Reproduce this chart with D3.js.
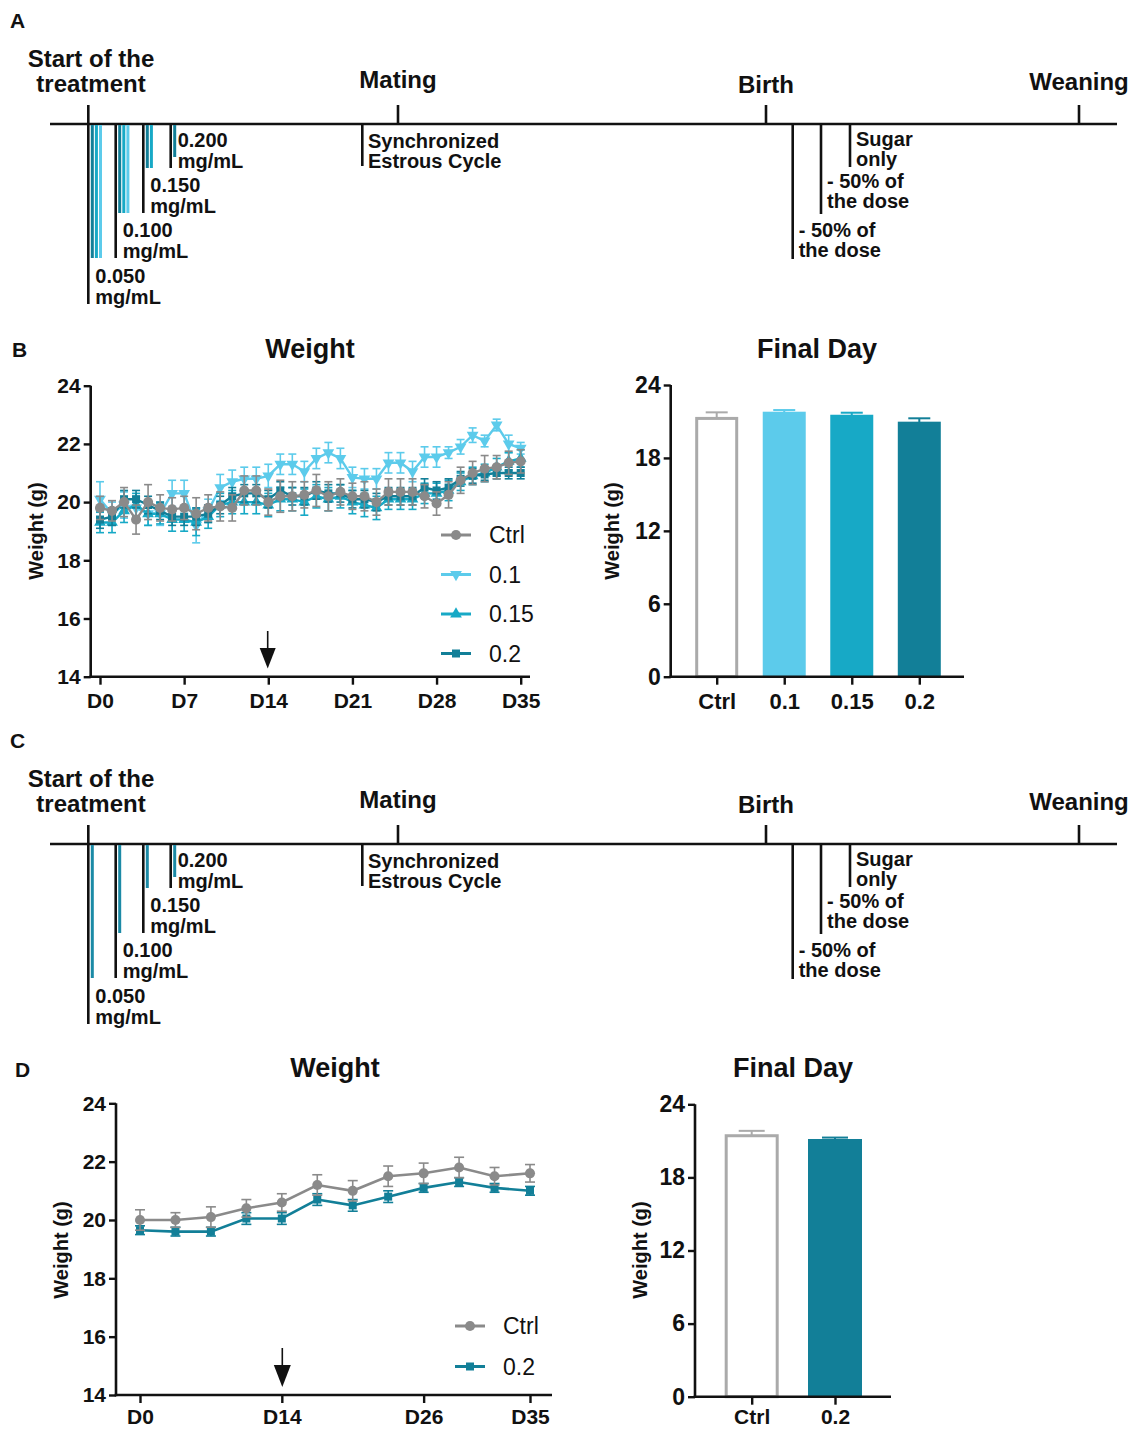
<!DOCTYPE html>
<html><head><meta charset="utf-8">
<script src="https://cdn.jsdelivr.net/npm/d3@7"></script>
<style>body{margin:0;background:#fff} svg{display:block} text{font-family:"Liberation Sans",Arial,sans-serif;fill:#111}</style>
</head><body><svg id="c" width="1138" height="1429"></svg>
<script>
// ---------------- DATA ----------------
const doseLabels = ["0.050", "0.100", "0.150", "0.200"];
const doseGroupsA = [["0.2","0.15","0.1"], ["0.2","0.15","0.1"], ["0.2","0.15"], ["0.2"]];
const doseGroupsC = [["0.2"], ["0.2"], ["0.2"], ["0.2"]];
const milestones = ["Start of the|treatment", "Mating", "Birth", "Weaning"];
const postBirthSteps = ["- 50% of|the dose", "- 50% of|the dose", "Sugar|only"];

const seriesB = ["0.1", "0.15", "0.2", "Ctrl"];
const daysB = [0,1,2,3,4,5,6,7,8,9,10,11,12,13,14,15,16,17,18,19,20,21,22,23,24,25,26,27,28,29,30,31,32,33,34,35];
const xTicksB = [0, 7, 14, 21, 28, 35];
const xTickLabelsB = ["D0","D7","D14","D21","D28","D35"];
const ctrlB = [19.8,19.7,20.0,19.4,20.0,19.8,19.75,19.8,19.6,19.8,19.85,19.8,20.4,20.4,20.0,20.2,20.2,20.25,20.4,20.2,20.35,20.2,20.2,20.0,20.35,20.35,20.35,20.2,19.95,20.25,20.75,21.0,21.15,21.2,21.35,21.4];
const ctrlBErr = [0.4,0.35,0.5,0.5,0.6,0.45,0.4,0.4,0.55,0.45,0.5,0.45,0.5,0.5,0.45,0.55,0.5,0.45,0.55,0.5,0.45,0.45,0.5,0.45,0.45,0.45,0.45,0.4,0.4,0.45,0.45,0.4,0.45,0.4,0.4,0.4];
const d01B = [20.1,19.6,19.9,19.8,19.6,19.6,20.3,20.3,19.2,19.7,20.5,20.7,20.8,20.8,20.9,21.3,21.3,21.05,21.5,21.7,21.5,20.85,20.8,20.8,21.35,21.35,21.05,21.55,21.55,21.7,21.9,22.3,22.1,22.65,22.0,21.85];
const d01BErr = [0.6,0.4,0.45,0.4,0.4,0.4,0.45,0.45,0.6,0.4,0.45,0.4,0.4,0.4,0.4,0.35,0.35,0.35,0.35,0.35,0.35,0.35,0.35,0.35,0.35,0.35,0.35,0.35,0.35,0.2,0.25,0.25,0.2,0.2,0.3,0.2];
const d015B = [19.3,19.3,19.7,19.9,19.6,19.6,19.4,19.4,19.3,19.5,19.9,20.0,20.0,20.0,19.9,20.1,20.1,20.0,20.2,20.1,20.2,20.0,19.9,19.8,20.1,20.1,20.1,20.3,20.3,20.4,20.7,20.9,21.0,21.2,21.4,21.5];
const d015BErr = [0.35,0.35,0.4,0.4,0.4,0.35,0.4,0.4,0.45,0.4,0.4,0.4,0.4,0.4,0.4,0.4,0.4,0.45,0.4,0.4,0.4,0.4,0.4,0.4,0.35,0.35,0.35,0.35,0.35,0.35,0.3,0.3,0.3,0.3,0.3,0.3];
const d02B = [19.4,19.5,20.1,20.1,19.9,19.7,19.5,19.5,19.5,19.6,19.9,20.2,20.3,20.3,20.1,20.4,20.2,20.2,20.4,20.3,20.3,20.1,20.1,20.0,20.2,20.2,20.2,20.5,20.4,20.5,20.8,20.9,20.95,21.0,21.0,21.0];
const d02BErr = [0.3,0.3,0.3,0.3,0.3,0.3,0.3,0.3,0.3,0.3,0.3,0.3,0.3,0.3,0.3,0.3,0.3,0.3,0.3,0.3,0.3,0.3,0.3,0.3,0.3,0.3,0.3,0.3,0.3,0.3,0.25,0.25,0.2,0.2,0.2,0.2];

const barCatsB = ["Ctrl","0.1","0.15","0.2"];
const barValsB = [21.25, 21.72, 21.47, 20.9];
const barErrB = [0.5, 0.22, 0.25, 0.36];

const pointsD = [0,1,2,3,4,5,6,7,8,9,10,11];
const xTicksD = [0, 4, 8, 11];
const xTickLabelsD = ["D0","D14","D26","D35"];
const ctrlD = [20.0,20.0,20.1,20.4,20.6,21.2,21.0,21.5,21.6,21.8,21.5,21.6];
const ctrlDErr = [0.35,0.25,0.35,0.3,0.3,0.35,0.35,0.35,0.35,0.35,0.3,0.3];
const d02D = [19.65,19.6,19.6,20.05,20.05,20.7,20.5,20.8,21.1,21.3,21.1,21.0];
const d02DErr = [0.15,0.15,0.15,0.2,0.2,0.2,0.2,0.2,0.15,0.15,0.15,0.15];

const barCatsD = ["Ctrl","0.2"];
const barValsD = [21.42, 21.07];
const barErrD = [0.4, 0.2];

const weightTicks = [14,16,18,20,22,24];
const barTicks = [0,6,12,18,24];

// ---------------- STYLE ----------------
const col = {"Ctrl":"#8a8a8a","0.1":"#5ccbeb","0.15":"#17a9c6","0.2":"#127f98"};
const barStroke = "#aaaaaa";
const FONT = '"Liberation Sans", Arial, sans-serif';

const svg = d3.select("#c");

function multiText(g, x, y, str, size, anchor, lh) {
  const lines = str.split("|");
  lines.forEach((s, i) => {
    g.append("text").attr("x", x).attr("y", y + i * lh).attr("text-anchor", anchor)
      .attr("font-size", size).attr("font-weight", "bold").text(s);
  });
}

// ---------------- TIMELINE (A & C) ----------------
function timeline(offY, groups, panelLabel) {
  const g = svg.append("g").attr("transform", `translate(0,${offY})`);
  g.append("text").attr("x", 10).attr("y", 28).attr("font-size", 21).attr("font-weight", "bold").text(panelLabel);
  const axisY = 124;
  g.append("line").attr("x1", 50).attr("x2", 1117).attr("y1", axisY).attr("y2", axisY).attr("stroke", "#111").attr("stroke-width", 2.6);
  const msX = [88.3, 398, 766, 1079];
  msX.forEach((x, i) => {
    g.append("line").attr("x1", x).attr("x2", x).attr("y1", 105).attr("y2", axisY).attr("stroke", "#111").attr("stroke-width", 2.6);
  });
  multiText(g, 91, 67, milestones[0], 24, "middle", 25);
  multiText(g, 398, 88, milestones[1], 24, "middle", 25);
  multiText(g, 766, 93, milestones[2], 24, "middle", 25);
  multiText(g, 1079, 90, milestones[3], 24, "middle", 25);
  // dose steps
  const doseX = [88.3, 115.7, 143.3, 170.7];
  const doseBottom = [304, 258, 213, 168];
  doseX.forEach((x, i) => {
    g.append("line").attr("x1", x).attr("x2", x).attr("y1", axisY).attr("y2", doseBottom[i]).attr("stroke", "#111").attr("stroke-width", 2.6);
    const bottomBlue = i < 3 ? doseBottom[i + 1] : 157;
    groups[i].forEach((gr, j) => {
      const c = groups === doseGroupsC ? "#1b8aa6" : col[gr];
      g.append("line").attr("x1", x + 4 + j * 4.1).attr("x2", x + 4 + j * 4.1)
        .attr("y1", axisY + 1).attr("y2", bottomBlue).attr("stroke", c).attr("stroke-width", 3);
    });
    multiText(g, x + 7, doseBottom[i] - 21, doseLabels[i] + "|mg/mL", 20, "start", 20.5);
  });
  // synchronized estrous
  g.append("line").attr("x1", 362.3).attr("x2", 362.3).attr("y1", axisY).attr("y2", 166).attr("stroke", "#111").attr("stroke-width", 2.6);
  multiText(g, 368, 148, "Synchronized|Estrous Cycle", 20, "start", 19.5);
  // post-birth
  const pbX = [792.7, 821, 850];
  const pbBottom = [259, 214, 167];
  const pbText = [236.5, 188, 146];
  pbX.forEach((x, i) => {
    g.append("line").attr("x1", x).attr("x2", x).attr("y1", axisY).attr("y2", pbBottom[i]).attr("stroke", "#111").attr("stroke-width", 2.6);
    multiText(g, x + 6, pbText[i], postBirthSteps[i], 20, "start", 20);
  });
}
timeline(0, doseGroupsA, "A");
timeline(720, doseGroupsC, "C");

// ---------------- helpers ----------------
function yAxis(g, scale, x, ticks, top, bottom, fs) {
  g.append("line").attr("x1", x).attr("x2", x).attr("y1", top).attr("y2", bottom).attr("stroke", "#111").attr("stroke-width", 2.6);
  const ax = g.append("g").attr("transform", `translate(${x},0)`)
    .call(d3.axisLeft(scale).tickValues(ticks).tickSize(7).tickPadding(3));
  ax.select(".domain").remove();
  ax.selectAll(".tick line").attr("stroke", "#111").attr("stroke-width", 2.4);
  ax.selectAll(".tick text").attr("font-size", fs).attr("font-weight", "bold").attr("font-family", FONT).attr("fill", "#111");
}
function xAxis(g, scale, y, ticks, labels, left, right, fs, pad) {
  g.append("line").attr("x1", left).attr("x2", right).attr("y1", y).attr("y2", y).attr("stroke", "#111").attr("stroke-width", 2.6);
  const ax = g.append("g").attr("transform", `translate(0,${y})`)
    .call(d3.axisBottom(scale).tickValues(ticks).tickFormat((d, i) => labels[i]).tickSize(8).tickPadding(pad));
  ax.select(".domain").remove();
  ax.selectAll(".tick line").attr("stroke", "#111").attr("stroke-width", 2.4);
  ax.selectAll(".tick text").attr("font-size", fs).attr("font-weight", "bold").attr("font-family", FONT).attr("fill", "#111");
}
function yLabel(g, x, y, fs) {
  g.append("text").attr("transform", `translate(${x},${y}) rotate(-90)`).attr("text-anchor", "middle")
    .attr("font-size", fs).attr("font-weight", "bold").text("Weight (g)");
}
function title(g, x, y, s) {
  g.append("text").attr("x", x).attr("y", y).attr("text-anchor", "middle").attr("font-size", 27).attr("font-weight", "bold").text(s);
}
function symbolFor(name) {
  if (name === "Ctrl") return d3.symbol().type(d3.symbolCircle).size(80)();
  if (name === "0.2") return d3.symbol().type(d3.symbolSquare).size(64)();
  return d3.symbol().type(d3.symbolTriangle).size(60)();
}
function symRot(name) { return name === "0.1" ? " rotate(180)" : ""; }
function arrow(g, x, top, headTop, bottom, hw) {
  g.append("line").attr("x1", x).attr("x2", x).attr("y1", top).attr("y2", headTop + 2).attr("stroke", "#111").attr("stroke-width", 1.6);
  g.append("path").attr("d", `M${x - hw},${headTop} L${x + hw},${headTop} L${x},${bottom} Z`).attr("fill", "#111");
}
function drawSeries(g, x, y, xs, vals, errs, name, cap, lw) {
  const c = col[name];
  const data = xs.map((d, i) => ({x: d, v: vals[i], e: errs[i]}));
  const eg = g.append("g").attr("stroke", c).attr("stroke-width", 1.6);
  data.forEach(d => {
    eg.append("line").attr("x1", x(d.x)).attr("x2", x(d.x)).attr("y1", y(d.v - d.e)).attr("y2", y(d.v + d.e));
    eg.append("line").attr("x1", x(d.x) - cap).attr("x2", x(d.x) + cap).attr("y1", y(d.v + d.e)).attr("y2", y(d.v + d.e));
    eg.append("line").attr("x1", x(d.x) - cap).attr("x2", x(d.x) + cap).attr("y1", y(d.v - d.e)).attr("y2", y(d.v - d.e));
  });
  g.append("path").datum(data).attr("fill", "none").attr("stroke", c).attr("stroke-width", lw)
    .attr("d", d3.line().x(d => x(d.x)).y(d => y(d.v)));
  g.selectAll(null).data(data).enter().append("path").attr("d", symbolFor(name))
    .attr("transform", d => `translate(${x(d.x)},${y(d.v)})${symRot(name)}`).attr("fill", c);
}
function legend(g, names, x0, x1, tx, ys, fs) {
  names.forEach((n, i) => {
    g.append("line").attr("x1", x0).attr("x2", x1).attr("y1", ys[i]).attr("y2", ys[i]).attr("stroke", col[n]).attr("stroke-width", 3);
    g.append("path").attr("d", symbolFor(n)).attr("transform", `translate(${(x0 + x1) / 2},${ys[i]})${symRot(n)}`).attr("fill", col[n]);
    g.append("text").attr("x", tx).attr("y", ys[i]).attr("dy", "0.36em").attr("font-size", fs).text(n);
  });
}
function bars(g, x, y, cats, vals, errs, bw, cap) {
  cats.forEach((c, i) => {
    const cx = x(c), top = y(vals[i]), base = y(0);
    const ctrl = c === "Ctrl";
    const ec = ctrl ? barStroke : col[c];
    g.append("line").attr("x1", cx).attr("x2", cx).attr("y1", top).attr("y2", y(vals[i] + errs[i])).attr("stroke", ec).attr("stroke-width", 2);
    g.append("line").attr("x1", cx - cap).attr("x2", cx + cap).attr("y1", y(vals[i] + errs[i])).attr("y2", y(vals[i] + errs[i])).attr("stroke", ec).attr("stroke-width", 2);
    if (ctrl) {
      g.append("rect").attr("x", cx - bw / 2 + 1.5).attr("y", top).attr("width", bw - 3).attr("height", base - top)
        .attr("fill", "#fff").attr("stroke", barStroke).attr("stroke-width", 3);
    } else {
      g.append("rect").attr("x", cx - bw / 2).attr("y", top - 1).attr("width", bw).attr("height", base - top + 1).attr("fill", col[c]);
    }
  });
}

// ---------------- PANEL B ----------------
{
  const g = svg.append("g");
  g.append("text").attr("x", 12).attr("y", 357).attr("font-size", 21).attr("font-weight", "bold").text("B");
  title(g, 310, 358, "Weight");
  const x = d3.scaleLinear().domain([0, 35]).range([100, 520.7]);
  const y = d3.scaleLinear().domain([14, 24]).range([676.7, 385.7]);
  const seriesData = {"Ctrl": [ctrlB, ctrlBErr], "0.1": [d01B, d01BErr], "0.15": [d015B, d015BErr], "0.2": [d02B, d02BErr]};
  seriesB.forEach(n => drawSeries(g, x, y, daysB, seriesData[n][0], seriesData[n][1], n, 4, 2.4));
  yAxis(g, y, 90.7, weightTicks, 385.7, 677.9, 21);
  xAxis(g, x, 676.7, xTicksB, xTickLabelsB, 89.4, 530, 21, 8);
  yLabel(g, 43, 531, 20);
  legend(g, ["Ctrl","0.1","0.15","0.2"], 441, 471, 489, [535, 574.5, 614, 653.5], 23);
  arrow(g, 267.7, 631, 648, 668.5, 8);

  title(g, 817, 358, "Final Day");
  const xb = d3.scalePoint().domain(barCatsB).range([716.7, 919.3]);
  const yb = d3.scaleLinear().domain([0, 24]).range([676.7, 385]);
  bars(g, xb, yb, barCatsB, barValsB, barErrB, 43, 11);
  yAxis(g, yb, 670.7, barTicks, 385, 677.9, 23);
  xAxis(g, xb, 676.7, barCatsB, barCatsB, 669.4, 964, 22, 9);
  yLabel(g, 619, 531, 20);
}

// ---------------- PANEL D ----------------
{
  const g = svg.append("g");
  g.append("text").attr("x", 15).attr("y", 1077).attr("font-size", 21).attr("font-weight", "bold").text("D");
  title(g, 335, 1077, "Weight");
  const x = d3.scaleLinear().domain([0, 11]).range([140, 530]);
  const y = d3.scaleLinear().domain([14, 24]).range([1395, 1103.3]);
  drawSeries(g, x, y, pointsD, d02D, d02DErr, "0.2", 5, 2.6);
  drawSeries(g, x, y, pointsD, ctrlD, ctrlDErr, "Ctrl", 5, 2.6);
  yAxis(g, y, 116, weightTicks, 1103.3, 1396.2, 21);
  xAxis(g, x, 1395, xTicksD, xTickLabelsD, 114.7, 552, 21, 6);
  yLabel(g, 68, 1250, 20);
  legend(g, ["Ctrl","0.2"], 455, 485, 503, [1326, 1366.5], 23);
  arrow(g, 282.3, 1348, 1365, 1387, 8.5);

  title(g, 793, 1077, "Final Day");
  const xb = d3.scalePoint().domain(barCatsD).range([751.7, 835]);
  const yb = d3.scaleLinear().domain([0, 24]).range([1396.7, 1104.3]);
  bars(g, xb, yb, barCatsD, barValsD, barErrD, 54, 13);
  yAxis(g, yb, 695, barTicks, 1104.3, 1397.9, 23);
  xAxis(g, xb, 1396.7, barCatsD, barCatsD, 693.7, 891, 21, 4);
  yLabel(g, 647, 1250, 20);
}
</script></body></html>
